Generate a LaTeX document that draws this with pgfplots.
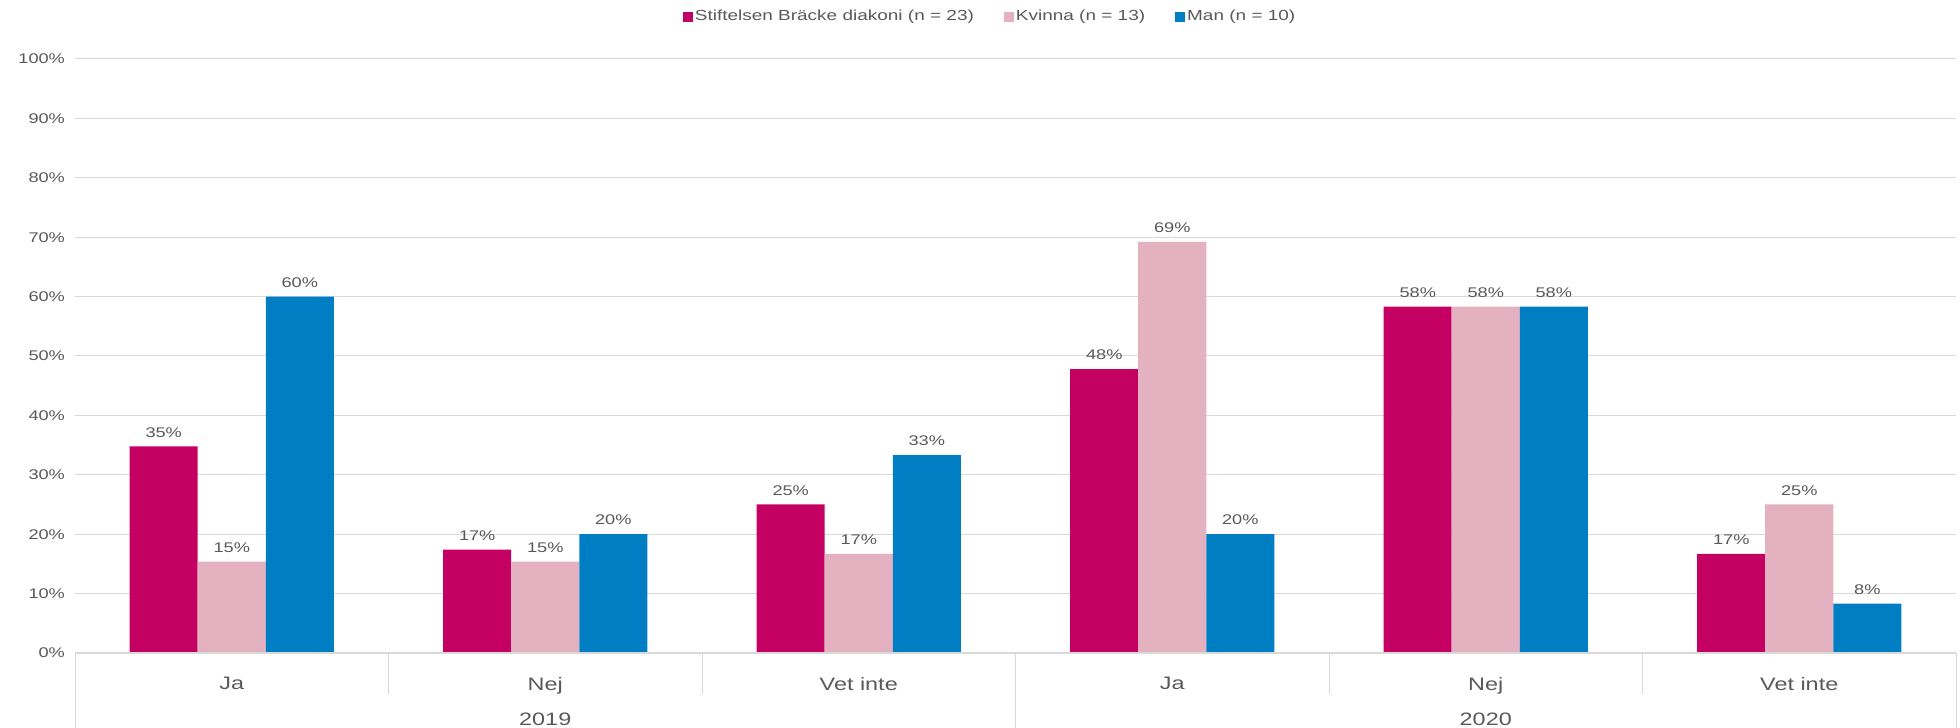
\documentclass[border=0pt]{standalone}
\usepackage{pgfplots}
\pgfplotsset{compat=1.18}
\usepackage{fontspec}
\setmainfont[FakeStretch=1.3]{Liberation Sans}
\definecolor{magenta}{RGB}{196,0,98}
\definecolor{rosa}{RGB}{227,177,192}
\definecolor{blue}{RGB}{0,126,196}
\definecolor{txt}{RGB}{89,89,89}
\definecolor{gridc}{RGB}{217,217,217}

\begin{document}
\begin{tikzpicture}
\useasboundingbox (-37.5pt,-37.5pt) rectangle (942.5pt,326.5pt);
\begin{axis}[
    at={(0,0)}, anchor=south west,
    scale only axis,
    width=940.5pt, height=297pt,
    ybar=0pt,
    bar width=0.217,
    xmin=-0.5, xmax=5.5,
    ymin=0, ymax=100,
    xtick={0,...,5},
    xticklabels={Ja,Nej,Vet inte,Ja,Nej,Vet inte},
    xticklabel style={font=\fontsize{9}{10}\selectfont, text=txt, yshift=-4.5pt},
    major x tick style={draw=none},
    ytick={0,10,...,100},
    yticklabel={\pgfmathprintnumber{\tick}\%},
    yticklabel style={font=\fontsize{7}{8}\selectfont, text=txt, xshift=-1.5pt},
    /pgf/number format/assume math mode=true,
    major y tick style={draw=none},
    ymajorgrids,
    major grid style={gridc, line width=0.5pt},
    axis line style={draw=none},
    clip=false,
    nodes near coords={\pgfmathprintnumber[fixed,precision=0]{\pgfplotspointmeta}\%},
    nodes near coords style={font=\fontsize{7}{8}\selectfont, text=txt, yshift=1pt},
    legend style={at={(0.4865,1.071)}, anchor=center, draw=none,
        font=\fontsize{7.3}{8}\selectfont, text=txt,
        nodes={inner xsep=1pt},
        legend columns=3, /tikz/every even column/.append style={column sep=14pt}},
    legend image code/.code={\fill[#1] (0pt,-2.5pt) rectangle (5pt,2.5pt);},
]
\addplot[fill=magenta, draw=none] coordinates {(0,34.8) (1,17.4) (2,25) (3,47.8) (4,58.3) (5,16.7)};
\addplot[fill=rosa, draw=none] coordinates {(0,15.4) (1,15.4) (2,16.7) (3,69.2) (4,58.3) (5,25)};
\addplot[fill=blue, draw=none] coordinates {(0,60) (1,20) (2,33.3) (3,20) (4,58.3) (5,8.3)};
\legend{Stiftelsen Bräcke diakoni (n = 23),Kvinna (n = 13),Man (n = 10)}
\draw[gridc, line width=1pt] (axis cs:-0.5,0) -- (axis cs:5.5,0);
\pgfplotsinvokeforeach{0.5,1.5,3.5,4.5}{
  \draw[gridc, line width=0.5pt] (axis cs:#1,0) -- ([yshift=-20.5pt]axis cs:#1,0);
}
\pgfplotsinvokeforeach{-0.5,2.5,5.5}{
  \draw[gridc, line width=0.5pt] (axis cs:#1,0) -- ([yshift=-37.5pt]axis cs:#1,0);
}
\node[font=\fontsize{9}{10}\selectfont, text=txt] at ([yshift=-33pt]axis cs:1,0) {2019};
\node[font=\fontsize{9}{10}\selectfont, text=txt] at ([yshift=-33pt]axis cs:4,0) {2020};
\end{axis}
\end{tikzpicture}
\end{document}
